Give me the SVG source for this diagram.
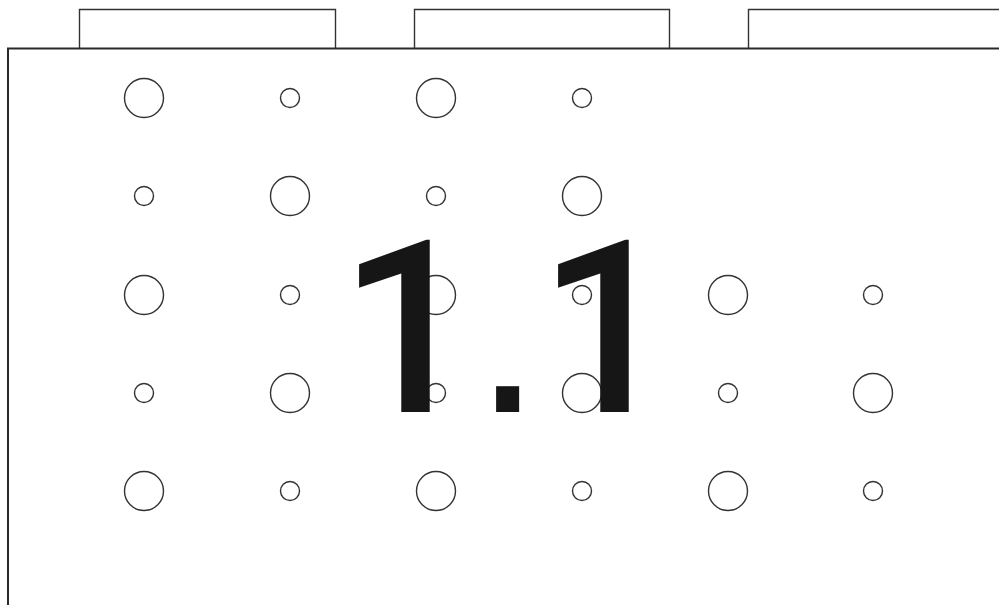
<svg xmlns="http://www.w3.org/2000/svg" width="999" height="605" viewBox="0 0 999 605">
<style>
.ln{fill:none;stroke:#333;stroke-width:1.4}
.bd{fill:none;stroke:#2a2a2a;stroke-width:2}
.c{fill:none;stroke:#333;stroke-width:1.4}
</style>
<rect width="999" height="605" fill="#fff"/>
<g id="tabs">
<path class="ln" d="M79.5,48 V9.5 H335.5 V48"/>
<path class="ln" d="M414.5,48 V9.5 H669.5 V48"/>
<path class="ln" d="M748.5,48 V9.5 H1005"/>
</g>
<g id="panel">
<path class="bd" d="M8,605 V48.5 H1005"/>
</g>
<g id="holes">
<circle class="c" cx="144" cy="98" r="19.5"/>
<circle class="c" cx="290" cy="98" r="9.5"/>
<circle class="c" cx="436" cy="98" r="19.5"/>
<circle class="c" cx="582" cy="98" r="9.5"/>
<circle class="c" cx="144" cy="196" r="9.5"/>
<circle class="c" cx="290" cy="196" r="19.5"/>
<circle class="c" cx="436" cy="196" r="9.5"/>
<circle class="c" cx="582" cy="196" r="19.5"/>
<circle class="c" cx="144" cy="295" r="19.5"/>
<circle class="c" cx="290" cy="295" r="9.5"/>
<circle class="c" cx="436" cy="295" r="19.5"/>
<circle class="c" cx="582" cy="295" r="9.5"/>
<circle class="c" cx="728" cy="295" r="19.5"/>
<circle class="c" cx="873" cy="295" r="9.5"/>
<circle class="c" cx="144" cy="393" r="9.5"/>
<circle class="c" cx="290" cy="393" r="19.5"/>
<circle class="c" cx="436" cy="393" r="9.5"/>
<circle class="c" cx="582" cy="393" r="19.5"/>
<circle class="c" cx="728" cy="393" r="9.5"/>
<circle class="c" cx="873" cy="393" r="19.5"/>
<circle class="c" cx="144" cy="491" r="19.5"/>
<circle class="c" cx="290" cy="491" r="9.5"/>
<circle class="c" cx="436" cy="491" r="19.5"/>
<circle class="c" cx="582" cy="491" r="9.5"/>
<circle class="c" cx="728" cy="491" r="19.5"/>
<circle class="c" cx="873" cy="491" r="9.5"/>
</g>
<g id="label">
<text x="339" y="412" font-family="Roboto, 'Noto Sans', sans-serif" font-size="242" font-weight="500" fill="#161616">1<tspan x="474" font-family="'Liberation Sans', Arial, sans-serif" font-weight="400">.</tspan><tspan x="538">1</tspan></text>
</g>
</svg>
